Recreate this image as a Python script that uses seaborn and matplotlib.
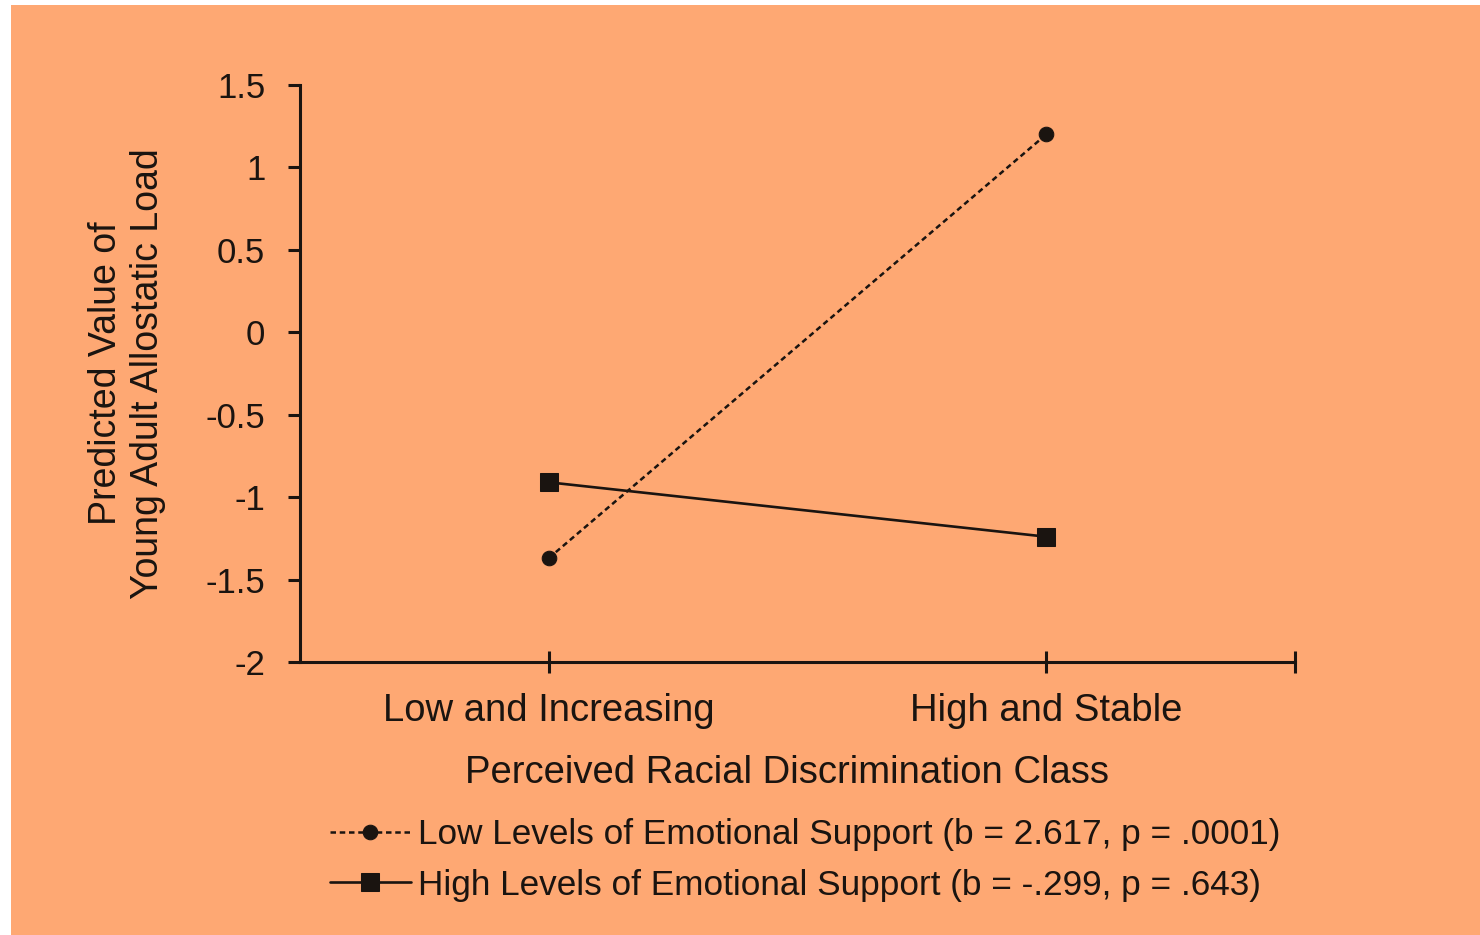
import matplotlib
matplotlib.use("Agg")
import matplotlib.pyplot as plt
import seaborn as sns
import pandas as pd
from matplotlib.patches import Rectangle

categories = ["Low and Increasing", "High and Stable"]
low_support = [-1.37, 1.20]
high_support = [-0.91, -1.24]
series_labels = ["Low Levels of Emotional Support (b = 2.617, p = .0001)",
                 "High Levels of Emotional Support (b = -.299, p = .643)"]
yticks = [-2, -1.5, -1, -0.5, 0, 0.5, 1, 1.5]
ytick_labels = ["-2", "-1.5", "-1", "-0.5", "0", "0.5", "1", "1.5"]

sns.set_theme(style="white")
plt.rcParams['font.family'] = ['Liberation Sans', 'DejaVu Sans']

ORANGE = "#FEA873"
INK = "#1a1410"
FS = 25
FS_X = 27.5

fig = plt.figure(figsize=(14.8, 9.35), dpi=100, facecolor="white")
fig.patches.append(Rectangle((11/1480, 0), 1 - 11/1480, 1 - 5/935,
                             transform=fig.transFigure, facecolor=ORANGE,
                             edgecolor="none", zorder=-10))
ax = fig.add_axes([300/1480, 1 - 662/935, 995/1480, 577/935])
ax.set_facecolor("none")

df_low = pd.DataFrame({"cls": categories, "val": low_support})
df_high = pd.DataFrame({"cls": categories, "val": high_support})

sns.lineplot(data=df_low, x="cls", y="val", ax=ax, color=INK, linewidth=1.8,
             linestyle=(0, (2.2, 1.5)), marker="o", markersize=10.5,
             markeredgecolor=INK, label=series_labels[0], sort=False)
sns.lineplot(data=df_high, x="cls", y="val", ax=ax, color=INK, linewidth=1.9,
             linestyle="-", marker="s", markersize=13.5,
             markeredgecolor=INK, label=series_labels[1], sort=False)

ax.set_xlim(-0.5, 1.5)
ax.set_ylim(-2, 1.5)
ax.set_yticks(yticks)
ax.set_yticklabels(ytick_labels)
ax.set_xticks([0, 1, 1.5])
ax.set_xticklabels([categories[0], categories[1], ""])

for s in ["top", "right"]:
    ax.spines[s].set_visible(False)
for s in ["left", "bottom"]:
    ax.spines[s].set_color(INK)
    ax.spines[s].set_linewidth(2.2)

ax.tick_params(axis="y", direction="out", length=9, width=2.2, color=INK,
               labelsize=FS, labelcolor=INK, pad=16, left=True)
ax.tick_params(axis="x", direction="inout", length=16, width=2.2, color=INK,
               labelsize=FS_X, labelcolor=INK, pad=14, bottom=True)

ax.set_ylabel("Predicted Value of\nYoung Adult Allostatic Load", fontsize=27,
              color=INK, va="center", linespacing=1.2)
ax.yaxis.set_label_coords(-0.174, 0.5)
ax.set_xlabel("Perceived Racial Discrimination Class", fontsize=FS_X, color=INK,
              va="center")
ax.xaxis.set_label_coords(0.489, -0.193)

leg = ax.legend(loc="upper left", bbox_to_anchor=(330/1480, 1 - 818/935),
                bbox_transform=fig.transFigure, frameon=False, fontsize=25.3,
                handlelength=2.3, handletextpad=0.2, borderpad=0,
                borderaxespad=0, labelspacing=0.5, labelcolor=INK)

fig.savefig("out.png", dpi=100, facecolor="white")
